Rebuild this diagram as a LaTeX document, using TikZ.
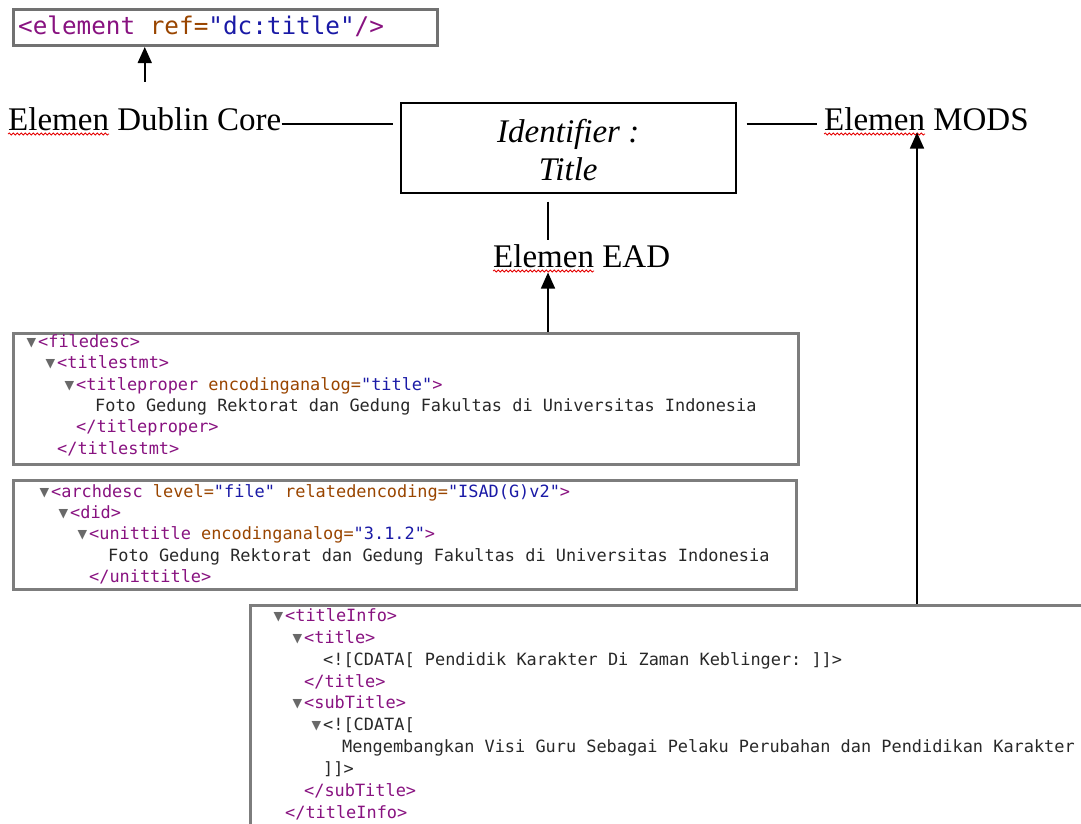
\documentclass[tikz,border=0pt]{standalone}
\usepackage{fontspec}
\setmainfont{Liberation Serif}
\setmonofont{DejaVu Sans Mono}
\newfontfamily\trifont{DejaVu Sans}
\usepackage{xcolor}
\usepackage{tikz}
\usetikzlibrary{arrows.meta,decorations.pathmorphing}
\definecolor{xmltag}{RGB}{136,18,128}
\definecolor{xmlattr}{RGB}{153,69,0}
\definecolor{xmlval}{RGB}{26,26,166}
\definecolor{xmltext}{RGB}{40,40,40}
\definecolor{boxgray}{RGB}{125,125,125}
\definecolor{trigray}{RGB}{105,105,105}
\newcommand{\xtag}[1]{\textcolor{xmltag}{#1}}
\newcommand{\xattr}[1]{\textcolor{xmlattr}{#1}}
\newcommand{\xval}[1]{\textcolor{xmlval}{#1}}
\newcommand{\xtri}{\llap{\raisebox{0.5pt}{\textcolor{trigray}{\trifont\fontsize{12.5}{12}\selectfont ▼}}\hspace{2pt}}}

\begin{document}
\begin{tikzpicture}[x=1pt,y=-1pt,
xmlbox/.style={draw=boxgray,line width=2.5pt,anchor=north west,inner sep=0pt},
code/.style={anchor=base west,inner sep=0pt,text=xmltext,
font=\ttfamily\fontsize{16.9}{20}\selectfont},
lbl/.style={anchor=base west,inner sep=0pt,font=\fontsize{33}{40}\selectfont},
arr/.style={-{Triangle[length=16pt,width=14pt]},line width=1.6pt},
link/.style={line width=1.5pt},
squig/.style={red!90!black,line width=0.8pt,decorate,
decoration={snake,amplitude=1pt,segment length=4pt}}
]
\useasboundingbox (0,0) rectangle (1081,823);
\clip (0,0) rectangle (1081,823);

% boxes
\node[xmlbox,line width=3pt,draw=boxgray!90!black,minimum width=424pt,minimum height=36pt] (dcxml) at (12,8) {};
\node[draw,line width=1.5pt,anchor=north west,minimum width=335pt,minimum height=90pt,
align=center,font=\itshape\fontsize{33}{38}\selectfont] (ident) at (400,102)
{\rule{0pt}{28.5pt}Identifier :\\Title};
\node[xmlbox,minimum width=785pt,minimum height=131pt] (eadfile) at (12,332) {};
\node[xmlbox,minimum width=783pt,minimum height=109pt] (eadarch) at (12,479) {};
\node[xmlbox,minimum width=900pt,minimum height=300pt] (modsbox) at (249,604) {};

% labels
\node[lbl] (dclabel) at (8,130) {Elemen Dublin Core};
\node[lbl] (modslabel) at (824,130) {Elemen MODS};
\node[lbl] (eadlabel) at (493,267) {Elemen EAD};
\draw[squig] ([yshift=-4pt]dclabel.base west) -- ++(101,0);
\draw[squig] ([yshift=-4pt]modslabel.base west) -- ++(101,0);
\draw[squig] ([yshift=-4pt]eadlabel.base west) -- ++(101,0);

% dublin core
\node[code,font=\ttfamily\fontsize{24.3}{28}\selectfont] (dcref) at (18,34)
{\xtag{<element} \xattr{ref=}\xval{"dc:title"}\xtag{/>}};

% EAD
\node[code] (fdesc) at (38,347) {\xtri\xtag{<filedesc>}};
\node[code] (tstmt) at (57,368) {\xtri\xtag{<titlestmt>}};
\node[code] (tprop) at (76,390) {\xtri\xtag{<titleproper} \xattr{encodinganalog=}\xval{"title"}\xtag{>}};
\node[code] (ftext1) at (95,411) {Foto Gedung Rektorat dan Gedung Fakultas di Universitas Indonesia};
\node[code] (tpropend) at (76,432) {\xtag{</titleproper>}};
\node[code] (tstmtend) at (57,454) {\xtag{</titlestmt>}};

\node[code] (adesc) at (51,497) {\xtri\xtag{<archdesc} \xattr{level=}\xval{"file"} \xattr{relatedencoding=}\xval{"ISAD(G)v2"}\xtag{>}};
\node[code] (did) at (70,518) {\xtri\xtag{<did>}};
\node[code] (utitle) at (89,539) {\xtri\xtag{<unittitle} \xattr{encodinganalog=}\xval{"3.1.2"}\xtag{>}};
\node[code] (ftext2) at (108,561) {Foto Gedung Rektorat dan Gedung Fakultas di Universitas Indonesia};
\node[code] (utitleend) at (89,582) {\xtag{</unittitle>}};

% MODS
\node[code] (tinfo) at (285,621) {\xtri\xtag{<titleInfo>}};
\node[code] (title) at (304,643) {\xtri\xtag{<title>}};
\node[code] (cdata1) at (323,665) {<![CDATA[ Pendidik Karakter Di Zaman Keblinger: ]]>};
\node[code] (titleend) at (304,687) {\xtag{</title>}};
\node[code] (subt) at (304,708) {\xtri\xtag{<subTitle>}};
\node[code] (cdata2) at (323,730) {\xtri<![CDATA[};
\node[code] (mtext) at (342,752) {Mengembangkan Visi Guru Sebagai Pelaku Perubahan dan Pendidikan Karakter};
\node[code] (cdataend) at (323,774) {]]>};
\node[code] (subtend) at (304,796) {\xtag{</subTitle>}};
\node[code] (tinfoend) at (285,818) {\xtag{</titleInfo>}};

% connectors
\coordinate (dcline) at ([yshift=6pt]dclabel.base east);
\coordinate (modsline) at ([yshift=6pt]modslabel.base west);
\coordinate (eadx) at (548,300);
\coordinate (modsx) at (917,300);
\draw[arr,shorten <=25pt] (dclabel.north) -- (dclabel.north |- dcxml.south);
\draw[link,shorten >=7pt] (dcline) -- (dcline -| ident.west);
\draw[link,shorten <=10pt,shorten >=7pt] (ident.east |- modsline) -- (modsline);
\draw[link,shorten <=8pt,shorten >=4pt] (ident.south -| eadx) -- (eadlabel.north -| eadx);
\draw[arr,shorten >=5pt] (eadfile.north -| eadx) -- (eadlabel.south -| eadx);
\draw[arr,shorten >=2pt] (modsbox.north -| modsx) -- (modslabel.south -| modsx);
\end{tikzpicture}
\end{document}
